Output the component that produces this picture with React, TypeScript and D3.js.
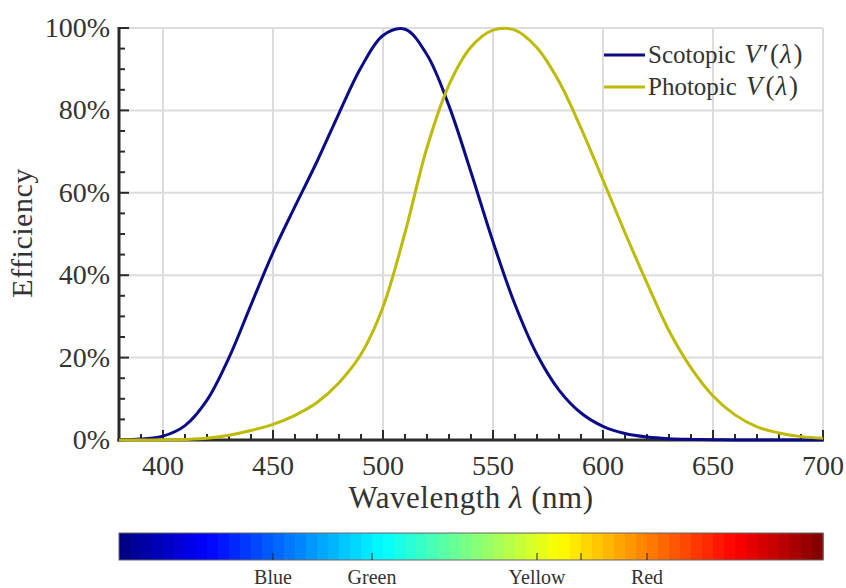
import * as d3 from 'd3';

const wavelengths = [
  380, 390, 400, 410, 420, 430, 440, 450, 460, 470, 480, 490, 500, 510, 520, 530, 540,
  550, 560, 570, 580, 590, 600, 610, 620, 630, 640, 650, 660, 670, 680, 690, 700
];

// scotopic V'(λ)
const scotopic = [
  0.0006, 0.0022, 0.0093, 0.0348, 0.0966, 0.1998, 0.3281, 0.455, 0.567, 0.676, 0.793,
  0.904, 0.982, 0.997, 0.935, 0.811, 0.65, 0.481, 0.3288, 0.2076, 0.1212, 0.0655, 0.0332,
  0.0159, 0.0074, 0.0033, 0.0015, 0.0007, 0.0003, 0.00015, 0.00007, 0.00004, 0.00002
];

// photopic V(λ)
const photopic = [
  0.00004, 0.00012, 0.0004, 0.0012, 0.004, 0.0116, 0.023, 0.038, 0.06, 0.091, 0.139,
  0.208, 0.323, 0.503, 0.71, 0.862, 0.954, 0.995, 0.995, 0.952, 0.87, 0.757, 0.631, 0.503,
  0.381, 0.265, 0.175, 0.107, 0.061, 0.032, 0.017, 0.0082, 0.0041
];

const xTicks = [400, 450, 500, 550, 600, 650, 700];
const yTicks = [0, 0.2, 0.4, 0.6, 0.8, 1];
const bandNames = ['Blue', 'Green', 'Yellow', '', 'Red'];
const bandEdges = [450, 495, 570, 590, 620];

const W = 846;
const H = 588;
const serif = '"Liberation Serif", "DejaVu Serif", serif';

function jet(t: number): string {
  const c = (v: number) => Math.round(255 * Math.max(0, Math.min(1, v)));
  return `rgb(${c(1.5 - Math.abs(4 * t - 3))},${c(1.5 - Math.abs(4 * t - 2))},${c(
    1.5 - Math.abs(4 * t - 1)
  )})`;
}

export default function App(): JSX.Element {
  const x = d3.scaleLinear().domain([380, 700]).range([119, 823]);
  const y = d3.scaleLinear().domain([0, 1]).range([440, 28]);

  const line = d3
    .line<number>()
    .x((_, i) => x(wavelengths[i]))
    .y((d) => y(Math.max(0, d)))
    .curve(d3.curveCatmullRom.alpha(0.5));

  const axisColor = '#2b2b2b';
  const gridColor = '#dcdcdc';

  const minorX = d3.range(380, 701, 10);
  const minorY = d3.range(0, 1.001, 0.05);

  const nBands = 64;
  const bandW = (x(700) - x(380)) / nBands;
  const barTop = 533;
  const barBottom = 560;

  const series = [
    { label: 'Scotopic', prime: true, values: scotopic, color: '#0b0b88' },
    { label: 'Photopic', prime: false, values: photopic, color: '#bdbb05' }
  ];

  return (
    <svg
      xmlns="http://www.w3.org/2000/svg"
      width={W}
      height={H}
      style={{ position: 'absolute', left: 0, top: 0, background: '#fff' }}
      fontFamily={serif}
    >
      <g>
        {xTicks.map((t) => (
          <line key={t} x1={x(t)} x2={x(t)} y1={y(0)} y2={y(1)} stroke={gridColor} strokeWidth={2} />
        ))}
        {yTicks.slice(1).map((t) => (
          <line key={t} x1={x(380)} x2={x(700)} y1={y(t)} y2={y(t)} stroke={gridColor} strokeWidth={2} />
        ))}
      </g>

      <g stroke={axisColor} strokeWidth={2}>
        {minorX.map((t) => (
          <line key={t} x1={x(t)} x2={x(t)} y1={y(0)} y2={y(0) - (t % 50 === 0 ? 10 : 6)} />
        ))}
        {minorY.map((t, i) => (
          <line key={i} x1={x(380)} x2={x(380) + (i % 4 === 0 ? 10 : 6)} y1={y(t)} y2={y(t)} />
        ))}
        <line x1={x(380)} x2={x(380)} y1={y(1) - 1} y2={y(0) + 1.5} strokeWidth={3} />
        <line x1={x(380) - 1.5} x2={x(700) + 1} y1={y(0)} y2={y(0)} strokeWidth={3} />
      </g>

      <g fill="#333" fontSize={28}>
        {xTicks.map((t) => (
          <text key={t} x={x(t)} y={y(0) + 35} textAnchor="middle">
            {t}
          </text>
        ))}
        {yTicks.map((t) => (
          <text key={t} x={110} y={y(t) + 9} textAnchor="end">
            {`${Math.round(t * 100)}%`}
          </text>
        ))}
        <text
          x={(x(380) + x(700)) / 2}
          y={508}
          textAnchor="middle"
          fontSize={31}
          letterSpacing={0.5}
        >
          Wavelength <tspan fontStyle="italic">λ</tspan> (nm)
        </text>
        <text
          transform="translate(32,233) rotate(-90)"
          textAnchor="middle"
          fontSize={30}
          letterSpacing={0.5}
        >
          Efficiency
        </text>
      </g>

      <g>
        {series.map((s, i) => (
          <g key={s.label}>
            <line x1={604} x2={645} y1={55 + i * 32} y2={55 + i * 32} stroke={s.color} strokeWidth={3} />
            <text x={648} y={63 + i * 32} fontSize={25} fill="#333">
              {s.label}
              <tspan dx={9} fontStyle="italic" fontSize={27}>
                {s.prime ? 'V′' : 'V'}
              </tspan>
              <tspan dx={3} fontSize={27}>(</tspan>
              <tspan dx={1} fontStyle="italic" fontSize={27}>
                λ
              </tspan>
              <tspan dx={2} fontSize={27}>)</tspan>
            </text>
          </g>
        ))}
      </g>

      <g fill="none" strokeWidth={3} strokeLinejoin="round">
        {series.map((s) => (
          <path key={s.label} d={line(s.values) as string} stroke={s.color} />
        ))}
      </g>

      <g>
        {d3.range(nBands).map((i) => (
          <rect
            key={i}
            x={x(380) + i * bandW}
            y={barTop}
            width={bandW + 0.6}
            height={barBottom - barTop}
            fill={jet((i + 0.5) / nBands)}
          />
        ))}
        <rect
          x={x(380)}
          y={barTop}
          width={x(700) - x(380)}
          height={barBottom - barTop}
          fill="none"
          stroke="#666"
          strokeWidth={1}
        />
        {bandEdges.map((w, i) => (
          <g key={w}>
            <line x1={x(w)} x2={x(w)} y1={barBottom} y2={barBottom - 7} stroke="#222" strokeWidth={1} />
            <text x={x(w)} y={584} textAnchor="middle" fontSize={20} fill="#333">
              {bandNames[i]}
            </text>
          </g>
        ))}
      </g>
    </svg>
  );
}
